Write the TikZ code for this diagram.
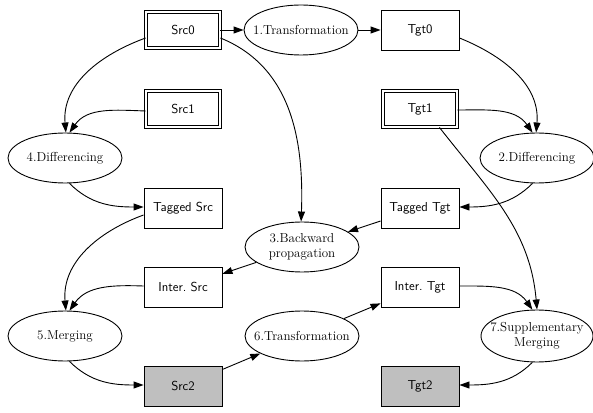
\documentclass[tikz,border=0pt]{standalone}
\usetikzlibrary{shapes.geometric,arrows.meta}
\begin{document}
\begin{tikzpicture}[x=1pt,y=1pt,
  every node/.style={font=\fontsize{13}{15}\selectfont},
  box/.style={draw,line width=0.9pt,rectangle,minimum width=78,minimum height=40,inner sep=0,font=\fontsize{13}{15}\selectfont\sffamily},
  dbox/.style={box,double,double distance=2.6pt,line width=0.8pt,minimum width=74,minimum height=36},
  gbox/.style={box,fill=gray!50},
  proc/.style={draw,line width=0.9pt,ellipse,inner sep=0,minimum width=114,minimum height=50},
  lbl/.style={inner sep=0,align=center,font=\fontsize{13}{15}\selectfont},
  edge/.style={line width=0.9pt,-{Triangle[length=10pt,width=7pt]}}]
\useasboundingbox (0,0) rectangle (593,412);

% data nodes
\node[dbox] (src0) at (183,382) {Src0};
\node[box]  (tgt0) at (420,382) {Tgt0};
\node[dbox] (src1) at (183,303) {Src1};
\node[dbox] (tgt1) at (420,303) {Tgt1};
\node[box]  (tsrc) at (183,204) {Tagged Src};
\node[box]  (ttgt) at (420,204) {Tagged Tgt};
\node[box]  (isrc) at (183,125) {Inter.\ Src};
\node[box]  (itgt) at (420,125) {Inter.\ Tgt};
\node[gbox] (src2) at (183,26) {Src2};
\node[gbox] (tgt2) at (420,26) {Tgt2};

% process steps
\node[proc] (trans1) at (301,382) {};
\node[lbl]  (trans1-t) at (trans1) {1.Transformation};
\node[proc] (diff4) at (65,254) {};
\node[lbl]  (diff4-t) at (diff4) {4.Differencing};
\node[proc] (diff2) at (537,254) {};
\node[lbl]  (diff2-t) at (diff2) {2.Differencing};
\node[proc] (back3) at (302,165) {};
\node[lbl]  (back3-t) at (back3) {3.Backward\\propagation};
\node[proc] (merge5) at (65,76) {};
\node[lbl]  (merge5-t) at (merge5) {5.Merging};
\node[proc] (trans6) at (302,76) {};
\node[lbl]  (trans6-t) at (trans6) {6.Transformation};
\node[proc,minimum width=112,minimum height=52] (supp7) at (537,76) {};
\node[lbl]  (supp7-t) at (supp7) {7.Supplementary\\Merging};

% connectors
\draw[edge] (src0) -- (trans1);
\draw[edge] (trans1) -- (tgt0);
\draw[edge] (src0.west|-0,374) to[out=200,in=95] (diff4.88);
\draw[edge] (src1.west|-0,301) to[out=178,in=55] (diff4.80);
\draw[edge] (src0.east|-0,374) to[out=-22,in=88] (back3.92);
\draw[edge] (tgt0.east|-0,374) to[out=-22,in=85] (diff2.92);
\draw[edge] (tgt1.east|-0,302) to[out=0,in=125] (diff2.100);
\draw[edge] (tgt1.south east)++(-18,0) coordinate (t1s) (t1s) to[out=-52,in=95] (supp7.90);
\draw[edge] (diff4.-80) to[out=-45,in=180] (tsrc.west|-0,205);
\draw[edge] (diff2.-100) to[out=-135,in=0] (ttgt.east|-0,205);
\draw[edge] (tsrc.west|-0,197) to[out=200,in=95] (merge5.88);
\draw[edge] (ttgt) -- (back3);
\draw[edge] (back3) -- (isrc);
\draw[edge] (isrc.west|-0,126) to[out=178,in=55] (merge5.80);
\draw[edge] (merge5.-80) to[out=-45,in=180] (src2.west|-0,27);
\draw[edge] (src2) -- (trans6);
\draw[edge] (trans6) -- (itgt);
\draw[edge] (itgt.east|-0,126) to[out=0,in=125] (supp7.100);
\draw[edge] (supp7.-100) to[out=-135,in=0] (tgt2.east|-0,27);
\end{tikzpicture}
\end{document}
